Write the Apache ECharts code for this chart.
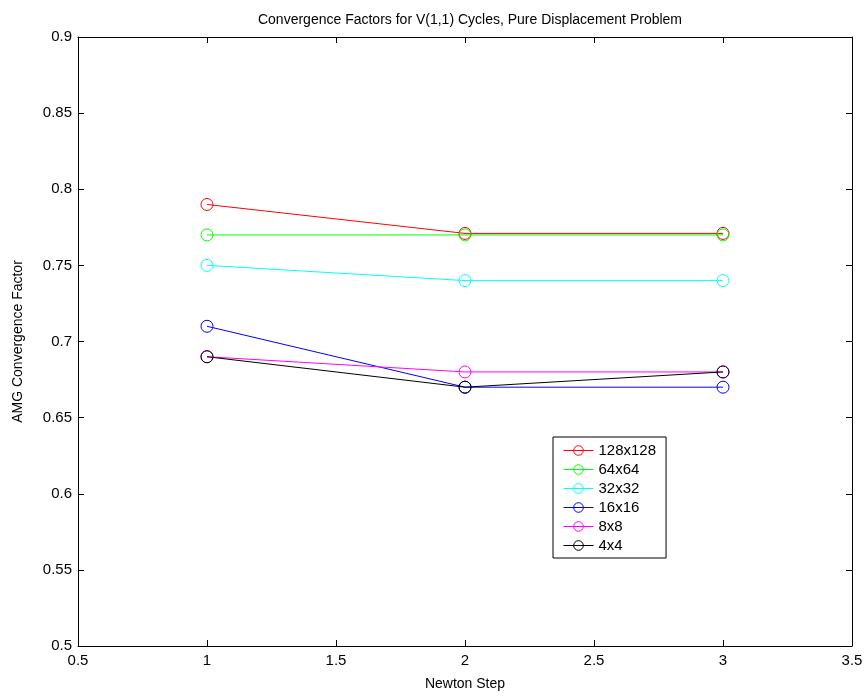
<!DOCTYPE html>
<html>
<head>
<meta charset="utf-8">
<script src="https://cdn.jsdelivr.net/npm/echarts@6/dist/echarts.min.js"></script>
<style>
  html, body { margin: 0; padding: 0; background: #fff; }
  #chart { width: 866px; height: 696px; }
</style>
</head>
<body>
<div id="chart"></div>
<script>
// newton steps
var steps = [1, 2, 3]
var seriesNames = ['128x128', '64x64', '32x32', '16x16', '8x8', '4x4']
var seriesColors = ['#ff0000', '#00ff00', '#00ffff', '#0000ff', '#ff00ff', '#000000']
var conv128 = [0.79, 0.771, 0.771]
var conv64 = [0.77, 0.77, 0.77]
var conv32 = [0.75, 0.74, 0.74]
var conv16 = [0.71, 0.67, 0.67]
var conv8 = [0.69, 0.68, 0.68]
var conv4 = [0.69, 0.67, 0.68]
var allValues = [conv128, conv64, conv32, conv16, conv8, conv4]

var fontFam = 'Liberation Sans, Arial, sans-serif'
var chart = echarts.init(document.getElementById('chart'))

function fmt(v) {
  return String(Math.round(v * 100) / 100)
}

var tickStyle = { inside: true, length: 6, lineStyle: { color: '#000' } }
var lineStyle = { color: '#000', width: 1 }

chart.setOption({
  backgroundColor: '#fff',
  animation: false,
  title: {
    text: 'Convergence Factors for V(1,1) Cycles, Pure Displacement Problem',
    left: 465,
    textAlign: 'center',
    top: 8,
    textStyle: { fontFamily: fontFam, fontSize: 14, fontWeight: 'normal', color: '#000' }
  },
  grid: { left: 78, right: 14, top: 37, bottom: 49 },
  legend: {
    orient: 'vertical',
    left: 553,
    top: 437,
    padding: [6, 10, 5, 10],
    itemGap: 4,
    itemWidth: 30,
    itemHeight: 12,
    borderColor: '#000',
    borderWidth: 1,
    backgroundColor: '#fff',
    itemStyle: { borderWidth: 1 },
    lineStyle: { width: 1 },
    textStyle: { fontFamily: fontFam, fontSize: 15, color: '#000' },
    data: seriesNames
  },
  xAxis: [{
    type: 'value',
    min: 0.5,
    max: 3.5,
    interval: 0.5,
    name: 'Newton Step',
    nameLocation: 'middle',
    nameGap: 31,
    nameTextStyle: { fontFamily: fontFam, fontSize: 14, color: '#000' },
    axisLine: { lineStyle: lineStyle },
    axisTick: tickStyle,
    splitLine: { show: false },
    axisLabel: { fontFamily: fontFam, fontSize: 15, color: '#000', margin: 7, formatter: fmt }
  }, {
    type: 'value',
    position: 'top',
    min: 0.5,
    max: 3.5,
    interval: 0.5,
    axisLine: { lineStyle: lineStyle },
    axisTick: tickStyle,
    splitLine: { show: false },
    axisLabel: { show: false }
  }],
  yAxis: [{
    type: 'value',
    min: 0.5,
    max: 0.9,
    interval: 0.05,
    name: 'AMG Convergence Factor',
    nameLocation: 'middle',
    nameGap: 53,
    nameTextStyle: { fontFamily: fontFam, fontSize: 14, color: '#000' },
    axisLine: { show: true, lineStyle: lineStyle },
    axisTick: tickStyle,
    splitLine: { show: false },
    axisLabel: { fontFamily: fontFam, fontSize: 15, color: '#000', margin: 6, formatter: fmt }
  }, {
    type: 'value',
    position: 'right',
    min: 0.5,
    max: 0.9,
    interval: 0.05,
    axisLine: { show: true, lineStyle: lineStyle },
    axisTick: tickStyle,
    splitLine: { show: false },
    axisLabel: { show: false }
  }],
  series: seriesNames.map(function(name, i) {
    return {
      name: name,
      type: 'line',
      data: steps.map(function(s, j) {
        return [s, allValues[i][j]]
      }),
      symbol: 'circle',
      symbolSize: 12,
      showAllSymbol: true,
      itemStyle: { color: 'rgba(0,0,0,0)', borderColor: seriesColors[i], borderWidth: 1 },
      lineStyle: { color: seriesColors[i], width: 1 }
    }
  })
})
</script>
</body>
</html>
